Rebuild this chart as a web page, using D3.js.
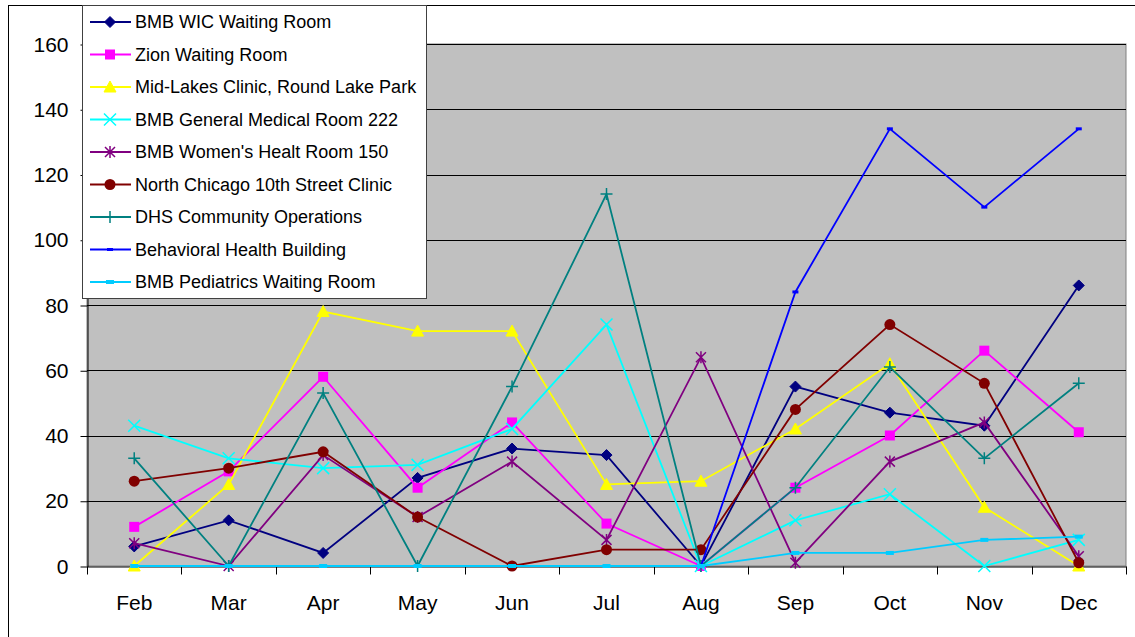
<!DOCTYPE html>
<html>
<head>
<meta charset="utf-8">
<script src="https://cdn.jsdelivr.net/npm/d3@7"></script>
<style>
  body { margin: 0; background: #fff; }
  svg { display: block; font-family: "Liberation Sans", Arial, sans-serif; }
</style>
</head>
<body>
<div id="chart"></div>
<script>
const months = ['Feb', 'Mar', 'Apr', 'May', 'Jun', 'Jul', 'Aug', 'Sep', 'Oct', 'Nov', 'Dec'];
const yTicks = [0, 20, 40, 60, 80, 100, 120, 140, 160];

const seriesNames = [
    'BMB WIC Waiting Room',
    'Zion Waiting Room',
    'Mid-Lakes Clinic, Round Lake Park',
    'BMB General Medical Room 222',
    "BMB Women's Healt Room 150",
    'North Chicago 10th Street Clinic',
    'DHS Community Operations',
    'Behavioral Health Building',
    'BMB Pediatrics Waiting Room'
];

const wic        = [6, 14, 4, 27, 36, 34, 0, 55, 47, 43, 86];
const zion       = [12, 29, 58, 24, 44, 13, 0, 24, 40, 66, 41];
const midLakes   = [0, 25, 78, 72, 72, 25, 26, 42, 62, 18, 0];
const general    = [43, 33, 30, 31, 42, 74, 0, 14, 22, 0, 8];
const womens     = [7, 0, 34, 15, 32, 8, 64, 1, 32, 44, 3];
const northChi   = [26, 30, 35, 15, 0, 5, 5, 48, 74, 56, 1];
const dhs        = [33, 0, 53, 0, 55, 114, 0, 24, 61, 33, 56];
const behavioral = [0, 0, 0, 0, 0, 0, 0, 84, 134, 110, 134];
const pediatrics = [0, 0, 0, 0, 0, 0, 0, 4, 4, 8, 9];

const seriesValues = [wic, zion, midLakes, general, womens, northChi, dhs, behavioral, pediatrics];
const seriesColors = ['#000080', '#FF00FF', '#FFFF00', '#00FFFF', '#800080', '#800000', '#008080', '#0000FF', '#00CCFF'];
const seriesMarkers = ['diamond', 'square', 'triangle', 'x', 'star', 'circle', 'plus', 'dash', 'dash2'];

const width = 1135, height = 637;
const plot = { left: 87, top: 44, right: 1126, bottom: 566 };

const svg = d3.select('#chart')
              .append('svg')
              .attr('width', width)
              .attr('height', height);

// chart border
svg.append('rect')
   .attr('x', 8.5).attr('y', 5.5)
   .attr('width', 1140).attr('height', 650)
   .attr('fill', '#fff')
   .attr('stroke', '#000');

const x = d3.scaleBand()
            .domain(months)
            .range([plot.left, plot.right])
            .padding(0);
const y = d3.scaleLinear()
            .domain([0, 160])
            .range([plot.bottom, plot.top]);
const cx = d => x(d) + x.bandwidth() / 2;

// plot area
svg.append('rect')
   .attr('x', plot.left).attr('y', plot.top)
   .attr('width', plot.right - plot.left).attr('height', plot.bottom - plot.top)
   .attr('fill', '#C0C0C0')
   .attr('stroke', '#808080');

// gridlines
svg.append('g')
   .selectAll('line')
   .data(yTicks.filter(t => t > 0))
   .enter()
   .append('line')
   .attr('x1', plot.left).attr('x2', plot.right)
   .attr('y1', d => Math.round(y(d)) + 0.5).attr('y2', d => Math.round(y(d)) + 0.5)
   .attr('stroke', '#000')
   .attr('stroke-width', 1);

// y axis
const yAxis = d3.axisLeft(y).tickValues(yTicks).tickSize(7).tickPadding(12).tickSizeOuter(0);
const gy = svg.append('g')
   .attr('transform', 'translate(' + (plot.left + 0.5) + ',0.5)')
   .call(yAxis);
gy.selectAll('text').attr('font-size', 21).attr('fill', '#000').attr('font-family', '"Liberation Sans", Arial, sans-serif');
gy.selectAll('line, path').attr('stroke', '#000');

// x axis
const xAxis = d3.axisBottom(x).tickSize(0).tickPadding(29).tickSizeOuter(0);
const gx = svg.append('g')
   .attr('transform', 'translate(0,' + (plot.bottom + 0.5) + ')')
   .call(xAxis);
gx.selectAll('text').attr('font-size', 21).attr('fill', '#000').attr('font-family', '"Liberation Sans", Arial, sans-serif');
gx.select('path').attr('stroke', '#000');
gx.selectAll('.boundary')
  .data(months.concat(['end']))
  .enter()
  .append('line')
  .attr('class', 'boundary')
  .attr('x1', (d, i) => Math.round(plot.left + i * x.bandwidth()) + 0.5)
  .attr('x2', (d, i) => Math.round(plot.left + i * x.bandwidth()) + 0.5)
  .attr('y1', 0).attr('y2', 8)
  .attr('stroke', '#000');

function drawMarker(g, type, color) {
    switch (type) {
        case 'diamond':
            g.append('path').attr('d', 'M0,-5.5L5.5,0L0,5.5L-5.5,0Z').attr('fill', color).attr('stroke', color);
            break;
        case 'square':
            g.append('rect').attr('x', -5).attr('y', -5).attr('width', 10).attr('height', 10).attr('fill', color);
            break;
        case 'triangle':
            g.append('path').attr('d', 'M0,-6L6,5L-6,5Z').attr('fill', color).attr('stroke', color);
            break;
        case 'circle':
            g.append('circle').attr('r', 5.5).attr('fill', color);
            break;
        case 'x':
            g.append('path').attr('d', 'M-6,-6L6,6M-6,6L6,-6').attr('stroke', color).attr('stroke-width', 1.5).attr('fill', 'none');
            break;
        case 'star':
            g.append('path').attr('d', 'M-5,-5L5,5M-5,5L5,-5M0,-6L0,6').attr('stroke', color).attr('stroke-width', 1.5).attr('fill', 'none');
            break;
        case 'plus':
            g.append('path').attr('d', 'M-6,0L6,0M0,-6L0,6').attr('stroke', color).attr('stroke-width', 1.5).attr('fill', 'none');
            break;
        case 'dash':
            g.append('rect').attr('x', -3).attr('y', -1.5).attr('width', 6).attr('height', 3).attr('fill', color);
            break;
        case 'dash2':
            g.append('rect').attr('x', -4).attr('y', -2).attr('width', 8).attr('height', 4).attr('fill', color);
            break;
    }
}

const line = d3.line()
               .x((d, i) => cx(months[i]))
               .y(d => y(d));

// series
seriesValues.forEach((values, s) => {
    const g = svg.append('g').attr('class', 'series');
    g.append('path')
     .datum(values)
     .attr('d', line)
     .attr('fill', 'none')
     .attr('stroke', seriesColors[s])
     .attr('stroke-width', 1.8);
    g.selectAll('.marker')
     .data(values)
     .enter()
     .append('g')
     .attr('class', 'marker')
     .attr('transform', (d, i) => 'translate(' + cx(months[i]) + ',' + y(d) + ')')
     .each(function () { drawMarker(d3.select(this), seriesMarkers[s], seriesColors[s]); });
});

// legend
const legend = svg.append('g');
legend.append('rect')
      .attr('x', 82.5).attr('y', 5.5)
      .attr('width', 344).attr('height', 293)
      .attr('fill', '#fff')
      .attr('stroke', '#404040');

seriesNames.forEach((name, s) => {
    const ly = 22 + s * 32.5;
    legend.append('line')
          .attr('x1', 90).attr('x2', 131)
          .attr('y1', ly).attr('y2', ly)
          .attr('stroke', seriesColors[s])
          .attr('stroke-width', 1.8);
    drawMarker(legend.append('g').attr('transform', 'translate(110,' + ly + ')'), seriesMarkers[s], seriesColors[s]);
    legend.append('text')
          .attr('x', 135).attr('y', ly)
          .attr('dy', '0.36em')
          .attr('font-size', 18)
          .attr('fill', '#000')
          .text(name);
});
</script>
</body>
</html>
